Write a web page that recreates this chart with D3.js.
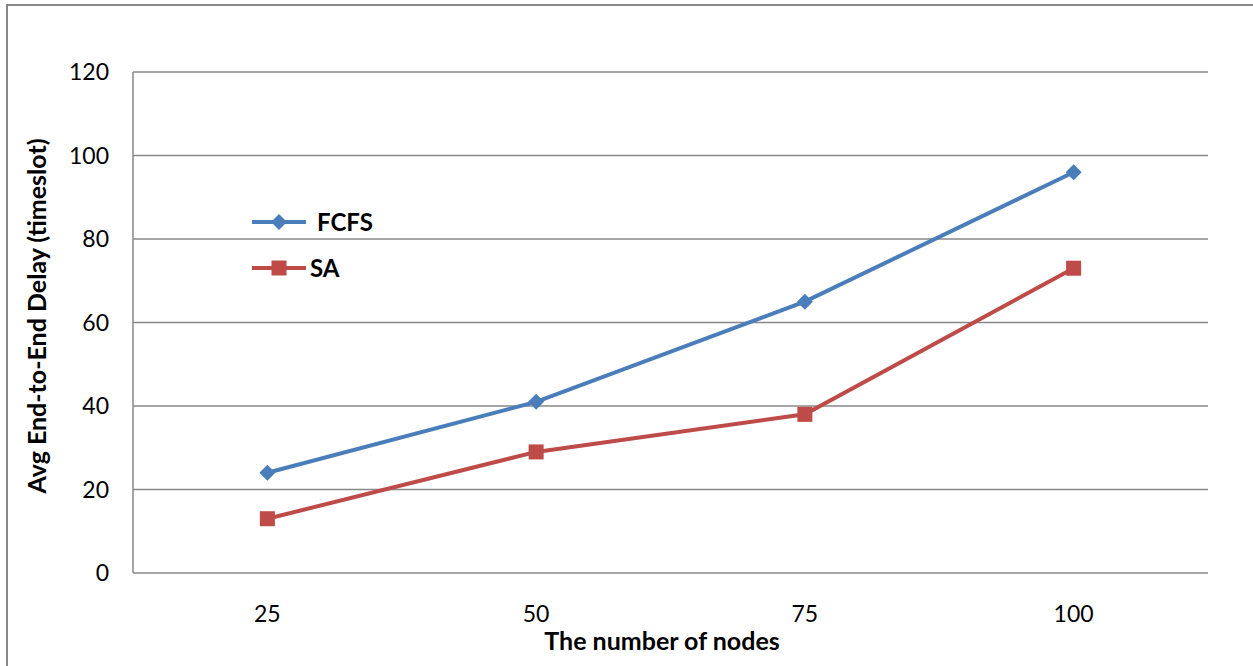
<!DOCTYPE html>
<html>
<head>
<meta charset="utf-8">
<script src="https://cdn.jsdelivr.net/npm/d3@7"></script>
<style>
  body { margin: 0; background: #fff; }
  svg { font-family: Lato, "Open Sans", sans-serif; }
</style>
</head>
<body>
<svg id="chart" width="1253" height="666"></svg>
<script>
// chart data
const nodes = ["25", "50", "75", "100"];
const fcfs = [24, 41, 65, 96];
const sa = [13, 29, 38, 73];
const yTicks = [0, 20, 40, 60, 80, 100, 120];

const svg = d3.select("#chart");
const margin = { left: 133, right: 1208, top: 72, bottom: 573 };

// outer frame
svg.append("rect")
  .attr("x", 7).attr("y", 5)
  .attr("width", 1253).attr("height", 700)
  .attr("fill", "none")
  .attr("stroke", "#888")
  .attr("stroke-width", 2);

let x = d3.scaleBand().domain(nodes).range([margin.left, margin.right]);
let y = d3.scaleLinear().domain([0, 120]).range([margin.bottom, margin.top]);

// gridlines
svg.append("g")
  .selectAll("line")
  .data(yTicks)
  .enter()
  .append("line")
  .attr("x1", margin.left).attr("x2", margin.right)
  .attr("y1", d => y(d)).attr("y2", d => y(d))
  .attr("stroke", "#888")
  .attr("stroke-width", 1.5);

// y axis line
svg.append("line")
  .attr("x1", margin.left).attr("x2", margin.left)
  .attr("y1", margin.top).attr("y2", margin.bottom)
  .attr("stroke", "#888")
  .attr("stroke-width", 1.5);

// y tick labels
svg.append("g")
  .selectAll("text")
  .data(yTicks)
  .enter()
  .append("text")
  .attr("x", 109)
  .attr("y", d => y(d) + 8)
  .attr("text-anchor", "end")
  .attr("font-size", 23)
  .text(d => d);

// x tick labels
svg.append("g")
  .selectAll("text")
  .data(nodes)
  .enter()
  .append("text")
  .attr("x", d => x(d) + x.bandwidth() / 2)
  .attr("y", 622)
  .attr("text-anchor", "middle")
  .attr("font-size", 23)
  .text(d => d);

// axis titles
svg.append("text")
  .attr("x", 662).attr("y", 650)
  .attr("text-anchor", "middle")
  .attr("font-size", 25)
  .attr("font-weight", "bold")
  .text("The number of nodes");

svg.append("text")
  .attr("transform", "translate(46,316) rotate(-90)")
  .attr("text-anchor", "middle")
  .attr("font-size", 25)
  .attr("font-weight", "bold")
  .text("Avg End-to-End Delay (timeslot)");

const cx = (d, i) => x(nodes[i]) + x.bandwidth() / 2;
const line = d3.line().x(cx).y(d => y(d));

const series = [
  { name: "FCFS", values: fcfs, color: "#4a7ebb", shape: "diamond", ly: 222 },
  { name: "SA", values: sa, color: "#be4b48", shape: "square", ly: 268 }
];

function marker(g, shape, px, py, color) {
  if (shape === "diamond") {
    g.append("path")
      .attr("d", `M${px},${py - 8}L${px + 8},${py}L${px},${py + 8}L${px - 8},${py}Z`)
      .attr("fill", color);
  } else {
    g.append("rect")
      .attr("x", px - 7.5).attr("y", py - 7.5)
      .attr("width", 15).attr("height", 15)
      .attr("fill", color);
  }
}

series.forEach(s => {
  svg.append("path")
    .datum(s.values)
    .attr("d", line)
    .attr("fill", "none")
    .attr("stroke", s.color)
    .attr("stroke-width", 4);
  let g = svg.append("g");
  s.values.forEach((v, i) => marker(g, s.shape, cx(v, i), y(v), s.color));

  // legend
  svg.append("line")
    .attr("x1", 252).attr("x2", 306)
    .attr("y1", s.ly).attr("y2", s.ly)
    .attr("stroke", s.color)
    .attr("stroke-width", 4);
  marker(svg, s.shape, 279, s.ly, s.color);
  svg.append("text")
    .attr("x", s.name === "FCFS" ? 317 : 310)
    .attr("y", s.ly + 9)
    .attr("font-size", 24)
    .attr("font-weight", "bold")
    .text(s.name);
});
</script>
</body>
</html>
